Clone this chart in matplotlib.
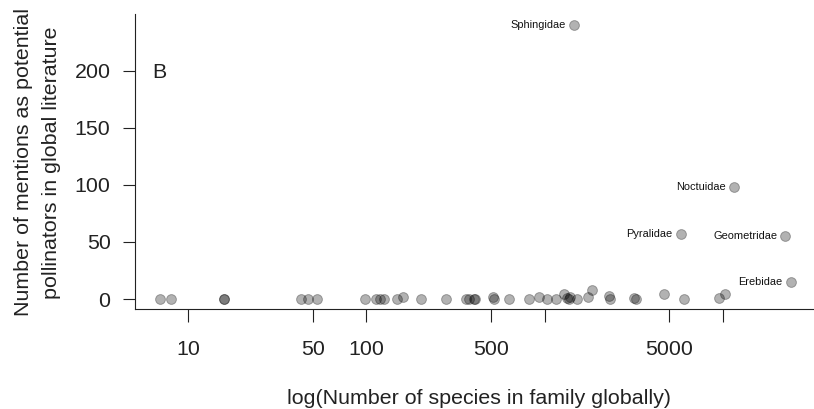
import matplotlib
matplotlib.use("Agg")
from matplotlib import pyplot as plt

plt.rcParams['font.family'] = ['Liberation Sans', 'DejaVu Sans']

# families without a label (number of species globally, mentions)
species = [7, 8, 16, 16, 43, 47, 53, 98, 113, 120, 125, 148, 160, 202, 281,
           360, 376, 400, 405, 515, 520, 632, 814, 925, 1030, 1160, 1280, 1340,
           1365, 1380, 1520, 1745, 1840, 2300, 2340, 3180, 3250, 4650, 6030,
           9460, 10200]
mentions = [0, 0, 0, 0, 0, 0, 0, 0, 0, 0, 0, 0, 2, 0, 0,
            0, 0, 0, 0, 2, 0, 0, 0, 2, 0, 0, 4, 1,
            0, 2, 0, 2, 8, 3, 0, 1, 0, 4, 0,
            1, 4]

# labelled families
label_names = ["Sphingidae", "Noctuidae", "Pyralidae", "Geometridae", "Erebidae"]
label_species = [1453, 11600, 5800, 22400, 24100]
label_mentions = [240, 98, 57, 55, 15]

xticks = [10, 50, 100, 500, 1000, 5000, 10000]
xticklabels = ["10", "50", "100", "500", "", "5000", ""]
yticks = [0, 50, 100, 150, 200]

FS = 15.4

W, H = 814, 409
fig = plt.figure(figsize=(W / 100, H / 100), dpi=100)
ax = fig.add_axes([135 / W, 1 - 308.5 / H, 679 / W, 294.5 / H])

all_x = species + label_species
all_y = mentions + label_mentions
ax.scatter(all_x, all_y, s=50, color="black", alpha=0.3, linewidths=0.7,
           edgecolors="black", zorder=3)

for name, x, y in zip(label_names, label_species, label_mentions):
    ax.annotate(name, (x, y), xytext=(-6, 0), textcoords="offset points",
                ha="right", va="center", fontsize=7.9, color="#111111")

ax.set_xscale("log")
ax.set_xlim(5.04, 32400)
ax.set_ylim(-8.3, 249.7)

ax.set_xticks(xticks)
ax.set_xticklabels(xticklabels)
ax.minorticks_off()
ax.set_yticks(yticks)

for s in ["top", "right"]:
    ax.spines[s].set_visible(False)
for s in ["left", "bottom"]:
    ax.spines[s].set_linewidth(0.8)
    ax.spines[s].set_color("#222222")

ax.tick_params(axis="x", direction="out", length=9.5, width=0.8,
               labelsize=FS, pad=13.5, colors="#222222")
ax.tick_params(axis="y", direction="out", length=8.6, width=0.8,
               labelsize=FS, pad=9, colors="#222222")

fig.text(159.5 / W, 1 - 72 / H, "B", fontsize=FS, ha="center", va="center",
         color="#222222")

fig.text(24 / W, 1 - 162.5 / H, "Number of mentions as potential",
         rotation=90, ha="center", va="center", fontsize=FS, color="#222222")
fig.text(51.5 / W, 1 - 162.5 / H, "pollinators in global literature",
         rotation=90, ha="center", va="center", fontsize=FS, color="#222222")
fig.text(479 / W, 1 - 399 / H, "log(Number of species in family globally)",
         ha="center", va="center", fontsize=FS, color="#222222")

fig.savefig("out.png", dpi=100)
